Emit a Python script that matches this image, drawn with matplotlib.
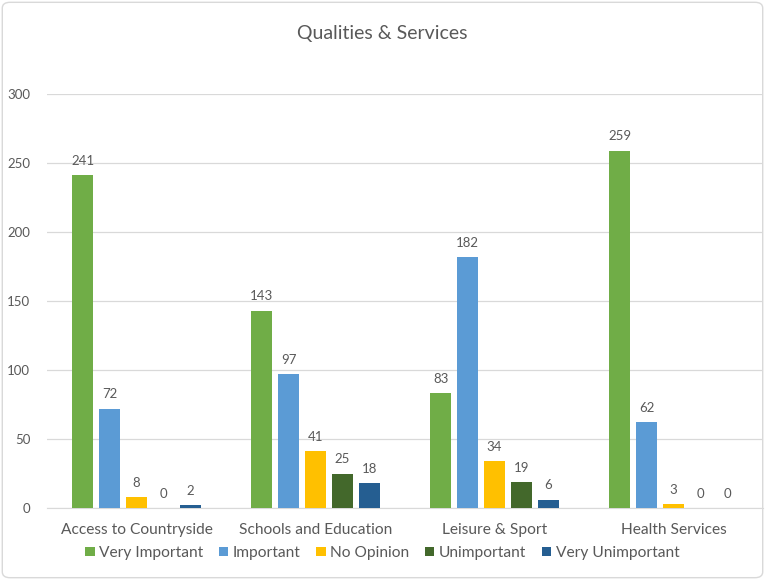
import numpy as np
import matplotlib
matplotlib.use("Agg")
import matplotlib.pyplot as plt
from matplotlib.patches import FancyBboxPatch

categories = ["Access to Countryside", "Schools and Education", "Leisure & Sport", "Health Services"]
series = ["Very Important", "Important", "No Opinion", "Unimportant", "Very Unimportant"]
very_important = [241, 143, 83, 259]
important = [72, 97, 182, 62]
no_opinion = [8, 41, 34, 3]
unimportant = [0, 25, 19, 0]
very_unimportant = [2, 18, 6, 0]
values = [very_important, important, no_opinion, unimportant, very_unimportant]
colors = ["#70AD47", "#5B9BD5", "#FFC000", "#43682B", "#255E91"]

plt.rcParams["font.family"] = ["Lato", "DejaVu Sans"]
txt = "#595959"

fig = plt.figure(figsize=(7.65, 5.8), dpi=100)
ax = fig.add_axes([47 / 765, 72 / 580, 716 / 765, 414 / 580])

x = np.arange(len(categories))
pitch = 0.15
width = 0.118
for i, (name, vals, col) in enumerate(zip(series, values, colors)):
    pos = x + (i - 2) * pitch
    ax.bar(pos, vals, width=width, color=col, label=name, zorder=3)
    for p, v in zip(pos, vals):
        ax.text(p, v + 6, str(v), ha="center", va="bottom", fontsize=9.5, color=txt)

ax.set_xlim(-0.5, len(categories) - 0.5)
ax.set_ylim(0, 300)
ax.set_yticks(range(0, 301, 50))
ax.yaxis.grid(True, color="#D9D9D9", linewidth=0.9, zorder=0)
for s in ax.spines.values():
    s.set_visible(False)
ax.spines["bottom"].set_visible(True)
ax.spines["bottom"].set_color("#D9D9D9")
ax.tick_params(axis="y", length=0, pad=12, labelsize=9.5, labelcolor=txt)
ax.tick_params(axis="x", length=0, pad=11, labelsize=11.2, labelcolor=txt)
ax.set_xticks(x)
ax.set_xticklabels(categories)

fig.text(0.5, 1 - 33 / 580, "Qualities & Services", ha="center", va="center",
         fontsize=14, color=txt)

fig.legend(loc="center", bbox_to_anchor=(0.5, 1 - 553 / 580), ncol=5, frameon=False,
           fontsize=11.2, labelcolor=txt, handlelength=0.6, handleheight=0.6,
           handletextpad=0.3, columnspacing=1.0)

fig.patches.append(FancyBboxPatch((0.003, 0.004), 0.994, 0.992,
                                  boxstyle="round,pad=0,rounding_size=0.01",
                                  transform=fig.transFigure, fill=False,
                                  edgecolor="#D9D9D9", linewidth=1))

fig.savefig("out.png", dpi=100)
